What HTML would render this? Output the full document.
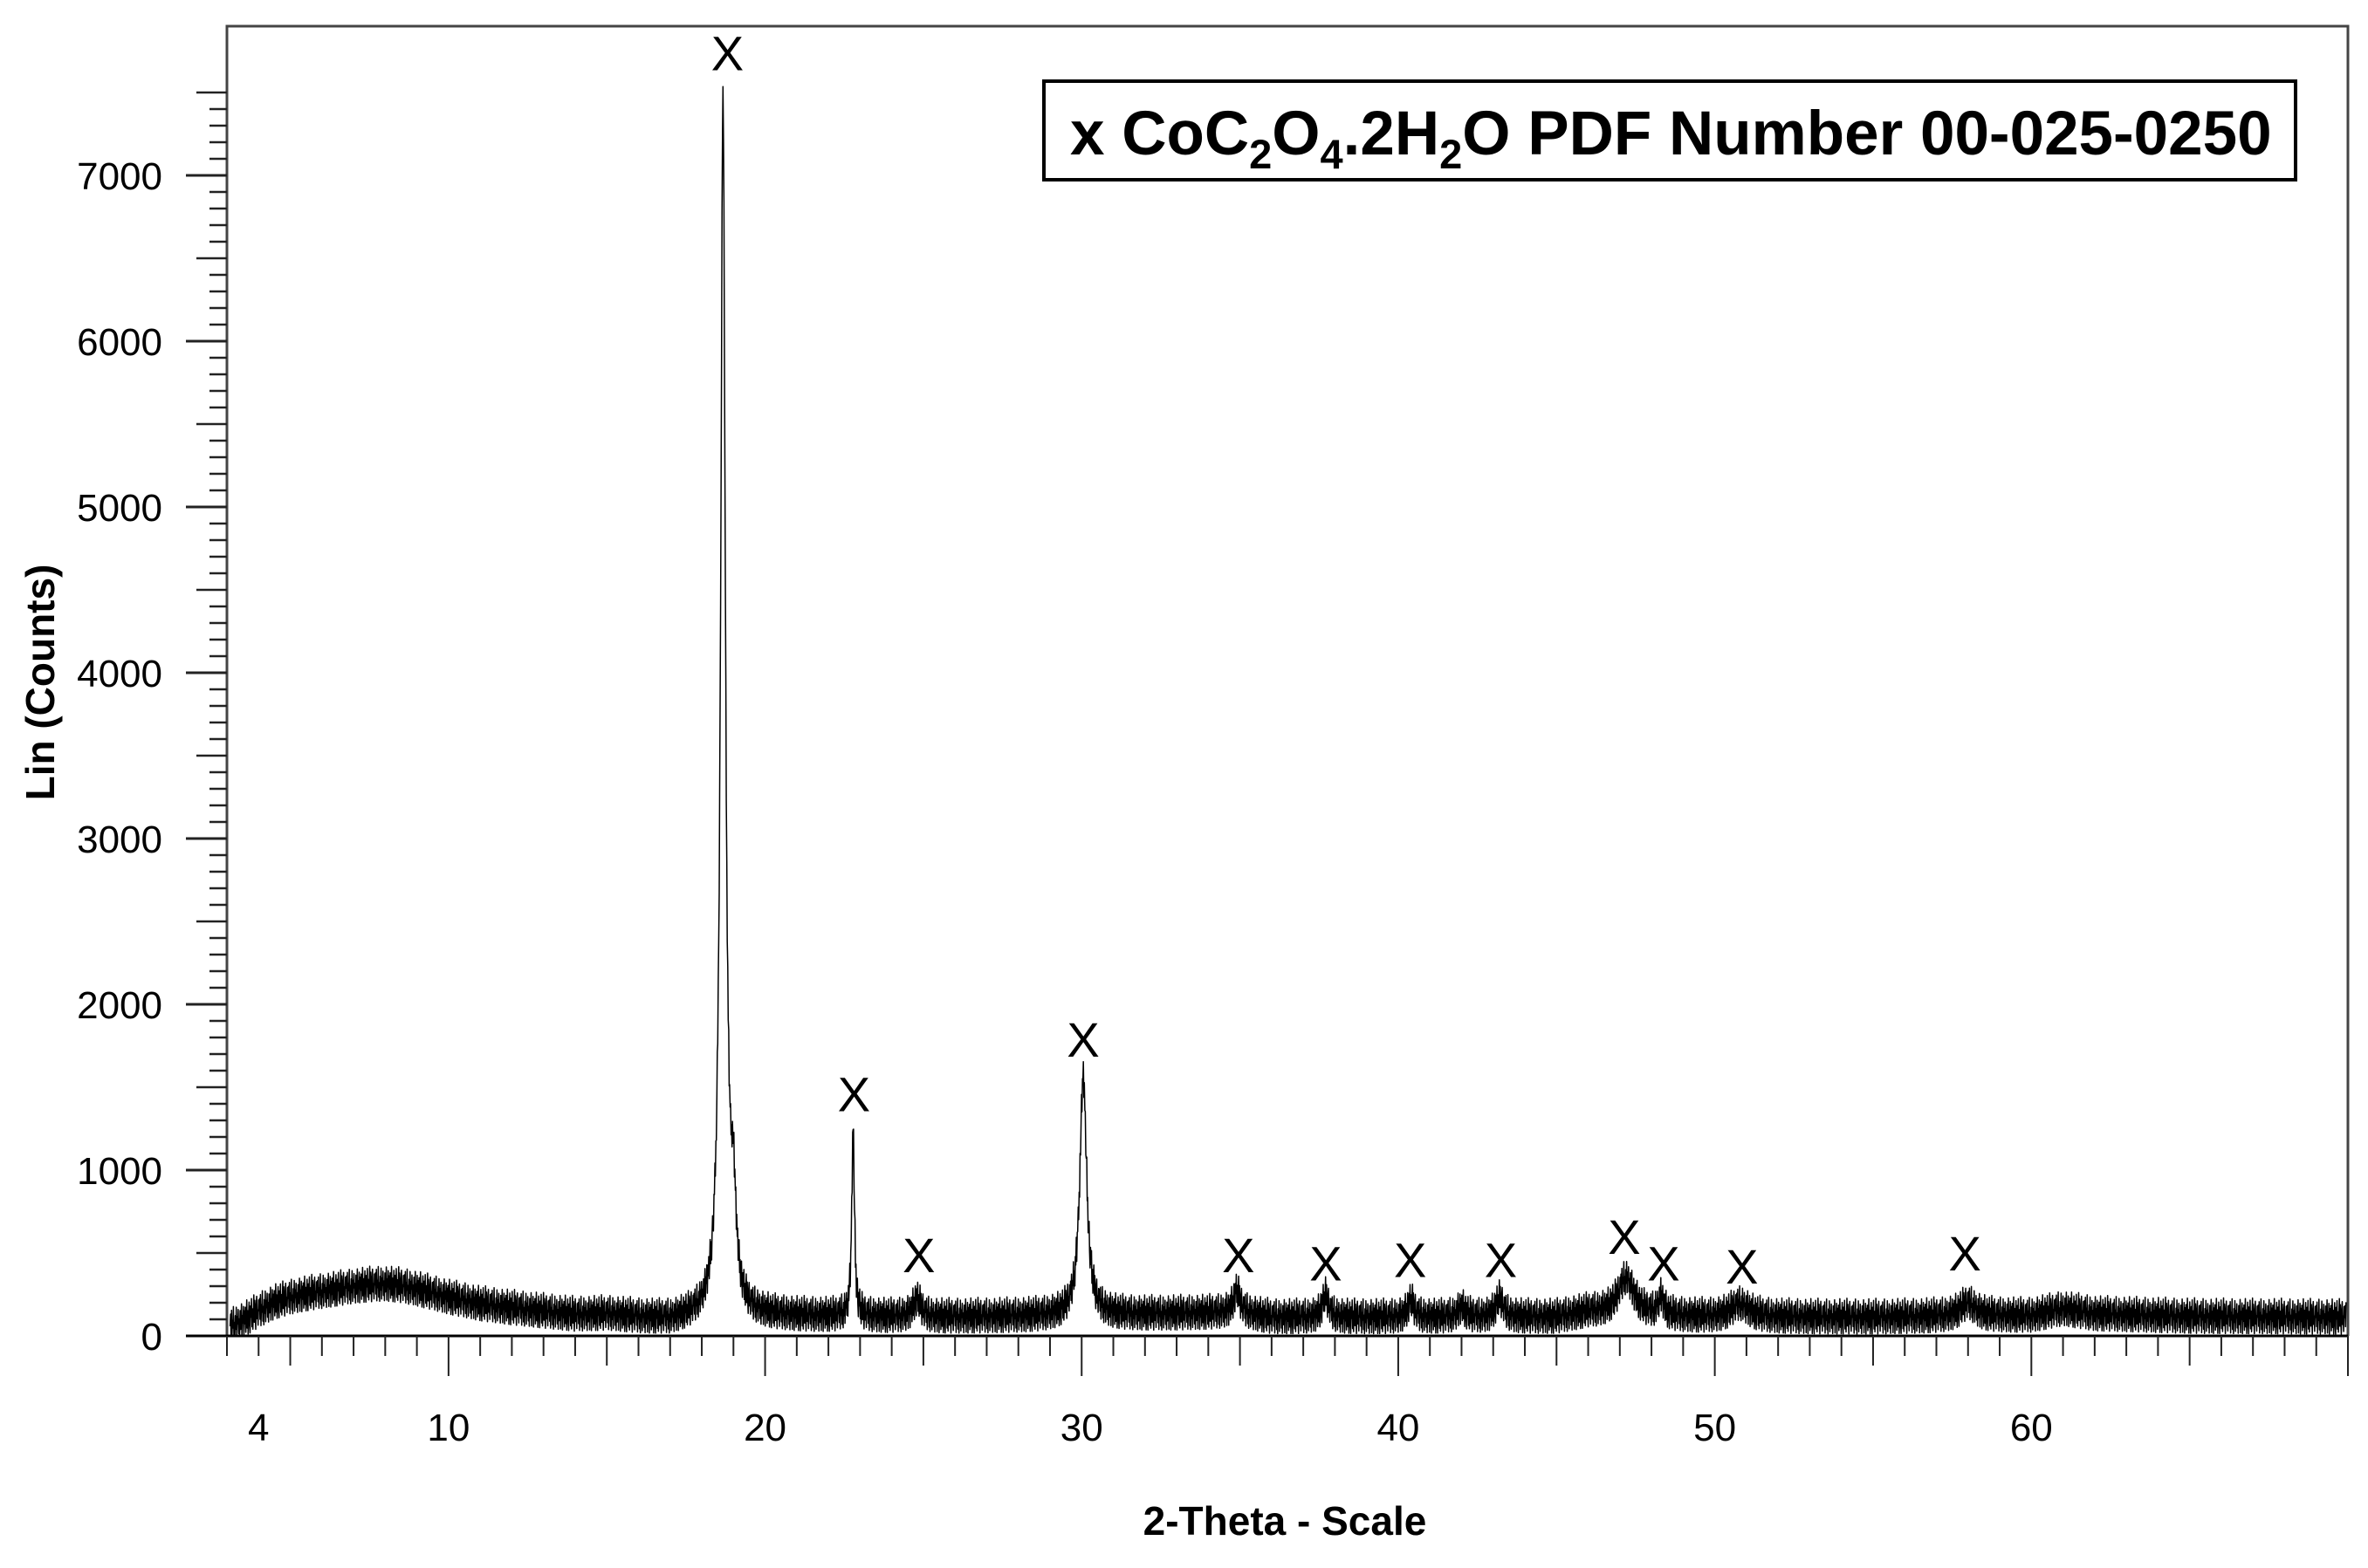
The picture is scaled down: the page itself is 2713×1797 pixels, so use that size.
<!DOCTYPE html>
<html><head><meta charset="utf-8"><style>
html,body{margin:0;padding:0;background:#fff;}
svg{display:block;font-family:"Liberation Sans",Arial,sans-serif;}
</style></head><body>
<svg id="chart" width="2713" height="1797" viewBox="0 0 2713 1797" xmlns="http://www.w3.org/2000/svg">
<g id="axes"></g>
<g id="series"></g>
<g id="markers"></g>
<g>
<rect x="1196" y="93" width="1434" height="113" fill="#fff" stroke="#000" stroke-width="4"/>
<text x="1226" y="177" font-size="71" font-weight="bold">x  CoC<tspan font-size="47" dy="16">2</tspan><tspan dy="-16">O</tspan><tspan font-size="47" dy="16">4</tspan><tspan dy="-16">.2H</tspan><tspan font-size="47" dy="16">2</tspan><tspan dy="-16">O PDF Number 00-025-0250</tspan></text>
</g>
<text x="1472" y="1759" font-size="46" font-weight="bold" text-anchor="middle">2-Theta - Scale</text>
<text transform="translate(62,782) rotate(-90)" font-size="46" font-weight="bold" text-anchor="middle">Lin (Counts)</text>
</svg>
<script>
const bgX = [3,3.5,4,4.5,5,5.5,6,6.5,7,7.5,8,8.5,9,9.5,10,11,12,13,14,15,16,17,18,20,25,30,35,36,40,45,46,48,50,55,60,61,62,65,70];
const bgY = [50,90,150,200,230,250,265,280,295,305,310,300,280,255,230,190,165,145,125,130,110,95,115,120,110,120,140,110,110,110,140,120,110,110,120,160,130,115,110];
const peakPos = [18.67,19.0,22.78,24.8,30.05,34.9,37.7,40.4,42.0,43.2,47.2,48.3,50.8,58.0];
const peakHeight = [7300,550,1150,110,1450,130,130,100,60,110,220,110,80,80];
const peakWidth = [0.09,0.1,0.05,0.15,0.13,0.12,0.12,0.12,0.15,0.15,0.3,0.1,0.35,0.3];
const markerPos = [18.81,22.81,24.86,30.05,34.95,37.71,40.38,43.24,47.14,48.38,50.86,57.9];
const markerCount = [7740,1460,490,1790,490,440,460,460,600,440,420,500];
const jitter = [0,72,-55,93,-96,28,-18,110,-75,12,-100,50,-33,99,-87,40,-6,80,-66,21,-98,69,-46,8,106,-94,33,-14,85,-100,54,-25,73,-80,5,112,-60,43,-99,18,90,-39,-100,61,-9,102,-70,36,-88,15,115,-52,78,-22,-100,46,96,-42,9,-84,66];
const yTicks = [0,1000,2000,3000,4000,5000,6000,7000];
const xTickLabels = [4,10,20,30,40,50,60];

const X0=260, X1=2690, Y0=1531, YTOP=30;
const xMin=3, xMax=70;
function xs(v){return X0+(v-xMin)/(xMax-xMin)*(X1-X0);}
function ys(v){return Y0-v*0.19;}
const NS="http://www.w3.org/2000/svg";
function mk(tag,attrs,parent){const e=document.createElementNS(NS,tag);for(const k in attrs)e.setAttribute(k,attrs[k]);parent.appendChild(e);return e;}
const axes=document.getElementById('axes');
let fr=mk('path',{d:`M${X0} ${Y0} V${YTOP} H${X1} V${Y0}`,fill:'none',stroke:'#444','stroke-width':3},axes);


let xa=mk('line',{x1:213,y1:Y0,x2:X1,y2:Y0,stroke:'#000','stroke-width':3},axes);


for(let c=100;c<=7500;c+=100){
  const major=c%1000===0, mid=c%500===0;
  const len=major?47:(mid?35:20);
  const t=mk('line',{x1:X0-len,y1:ys(c),x2:X0,y2:ys(c),stroke:'#222','stroke-width':major?3:2.5},axes);
  
  
}
yTicks.forEach(v=>{
  const t=mk('text',{x:186,y:ys(v)+16,'font-size':44,'text-anchor':'end'},axes);
  t.textContent=v;
  
  
});
for(let d=3;d<=70;d++){
  const len=d%10===0?46:(d%5===0?34:23);
  const t=mk('line',{x1:xs(d),y1:Y0,x2:xs(d),y2:Y0+len,stroke:'#222','stroke-width':2},axes);
  
  
}
xTickLabels.forEach(v=>{
  const t=mk('text',{x:xs(v),y:1651,'font-size':44,'text-anchor':'middle'},axes);
  t.textContent=v;
  
  
});
function bg(x){for(let i=0;i<bgX.length-1;i++){if(x<=bgX[i+1]){const f=(x-bgX[i])/(bgX[i+1]-bgX[i]);return bgY[i]+f*(bgY[i+1]-bgY[i]);}}return bgY[bgY.length-1];}
let d='';let k=0;
for(let x=3.1;x<=69.95;x+=0.015){
  let y=bg(x);
  for(let i=0;i<peakPos.length;i++){const u=(x-peakPos[i])/peakWidth[i];y+=peakHeight[i]/(1+u*u);}
  y+=jitter[k%jitter.length];k+=1;
  if(y<5)y=5;
  d+=(d?'L':'M')+xs(x).toFixed(1)+' '+ys(y).toFixed(1);
}
const ser=document.getElementById('series');
const p=mk('path',{d:d,fill:'none',stroke:'#000','stroke-width':1.5,'stroke-linejoin':'round'},ser);


const mg=document.getElementById('markers');
markerPos.forEach((v,i)=>{
  const t=mk('text',{x:xs(v),y:ys(markerCount[i])+20,'font-size':56,'text-anchor':'middle'},mg);
  t.textContent='X';
  
  
});
</script>
</body></html>
